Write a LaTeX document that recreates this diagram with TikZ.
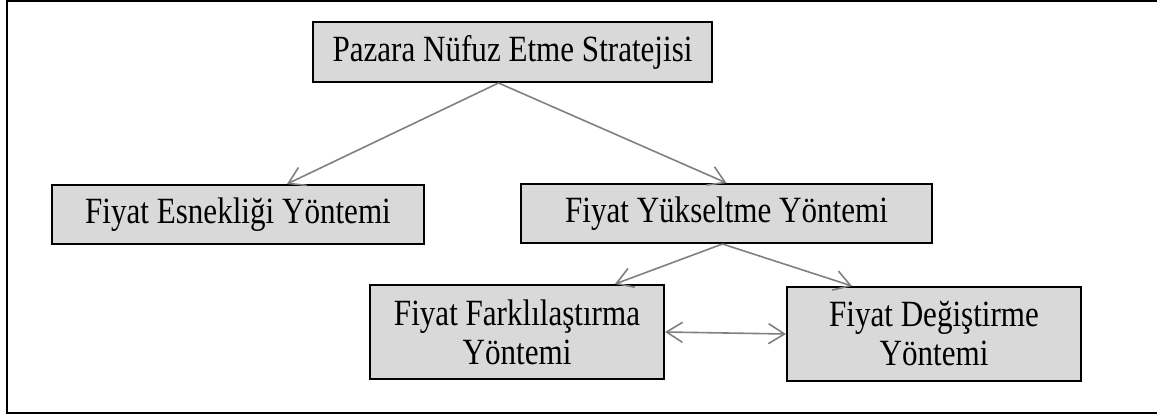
\documentclass[tikz,border=0pt]{standalone}
\usepackage{fontspec}
\setmainfont{Liberation Serif}[FakeStretch=0.84]
\usetikzlibrary{arrows.meta}
\definecolor{boxgray}{HTML}{D9D9D9}
\definecolor{linegray}{HTML}{808080}
\begin{document}
\begin{tikzpicture}[x=1pt,y=-1pt]
	\tikzset{box/.style={draw=black, line width=2pt, fill=boxgray, inner sep=0pt,
			align=center, font=\fontsize{37}{39}\selectfont},
		link/.style={draw=linegray, line width=1.6pt, -{Straight Barb[length=16pt,width=20pt]}},
		twoway/.style={link, {Straight Barb[length=16pt,width=20pt]}-{Straight Barb[length=16pt,width=20pt]}}}
	\useasboundingbox (0,0) rectangle (1157,414);
	\draw[line width=2pt] (7,1) rectangle (1170,413);
	\node[box, minimum width=399pt, minimum height=60pt] (pazar)  at (512.5,52)  {Pazara Nüfuz Etme Stratejisi};
	\node[box, minimum width=372pt, minimum height=59pt] (esnek)  at (238,214.5) {Fiyat Esnekliği Yöntemi};
	\node[box, minimum width=411pt, minimum height=59pt] (yuksel) at (726.5,213.5) {Fiyat Yükseltme Yöntemi};
	\node[box, minimum width=294pt, minimum height=94pt] (fark)   at (517,332)   {Fiyat Farklılaştırma\\Yöntemi};
	\node[box, minimum width=294pt, minimum height=94pt] (degis)  at (934,334)   {Fiyat Değiştirme\\Yöntemi};
	\draw[link] ([xshift=-14pt]pazar.south) -- ([xshift=49pt]esnek.north);
	\draw[link] ([xshift=-14pt]pazar.south) -- (yuksel.north);
	\draw[link] ([xshift=-4pt]yuksel.south) -- ([xshift=98pt]fark.north);
	\draw[link] ([xshift=-4pt]yuksel.south) -- ([xshift=-82pt]degis.north);
	\draw[twoway] (fark.east) -- (degis.west);
\end{tikzpicture}
\end{document}
